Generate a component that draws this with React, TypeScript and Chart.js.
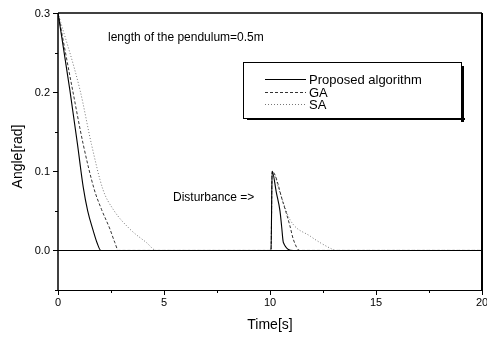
import React, { useEffect, useRef } from "react";
import { Chart, registerables } from "chart.js";

Chart.register(...registerables);

const proposedT = [0, 0.56, 0.92, 1.19, 1.4, 1.66, 1.85, 2.02, 10.0, 10.05, 10.1, 10.3, 10.47, 10.55, 10.63, 11.1, 20];
const proposedV = [0.3, 0.2025, 0.134, 0.08, 0.05, 0.025, 0.009, 0, 0, 0, 0.1, 0.073, 0.05, 0.03, 0.01, 0, 0];

const gaT = [0, 0.69, 1.19, 1.71, 2.05, 2.45, 2.68, 2.85, 10.0, 10.05, 10.1, 10.62, 10.94, 11.1, 11.4, 20];
const gaV = [0.3, 0.2025, 0.134, 0.077, 0.052, 0.027, 0.01, 0, 0, 0, 0.1, 0.06, 0.031, 0.014, 0, 0];

const saT = [0, 1.04, 1.58, 2.12, 2.6, 3.39, 4.17, 4.64, 10.0, 10.05, 10.1, 10.47, 10.94, 11.9, 12.9, 13.1, 20];
const saV = [0.3, 0.2025, 0.134, 0.077, 0.052, 0.027, 0.01, 0, 0, 0, 0.1, 0.073, 0.039, 0.018, 0.002, 0, 0];

const seriesNames = ["Proposed algorithm", "GA", "SA"];
const xTickLabels = [0, 5, 10, 15, 20];
const yTickLabels = [0.0, 0.1, 0.2, 0.3];
const noteText = "length of the pendulum=0.5m";
const disturbanceText = "Disturbance =>";
const xTitle = "Time[s]";
const yTitle = "Angle[rad]";

const FONT = "'Liberation Sans', Arial, sans-serif";

function pts(t: number[], v: number[]) {
  return t.map((x, i) => ({ x, y: v[i] }));
}

const decorPlugin = {
  id: "decor",
  beforeDatasetsDraw(chart: any) {
    const { ctx, chartArea: a, scales } = chart;
    const y0 = scales.y.getPixelForValue(0);
    ctx.save();
    ctx.strokeStyle = "#000";
    ctx.lineWidth = 1;
    ctx.beginPath();
    ctx.moveTo(a.left, Math.round(y0) + 0.5);
    ctx.lineTo(a.right, Math.round(y0) + 0.5);
    ctx.stroke();
    ctx.restore();
  },
  afterDraw(chart: any) {
    const { ctx, chartArea: a, scales } = chart;
    const xs = scales.x;
    const ys = scales.y;
    ctx.save();
    ctx.strokeStyle = "#000";
    // frame
    ctx.lineWidth = 1.5;
    ctx.beginPath();
    ctx.moveTo(a.left, a.top);
    ctx.lineTo(a.right, a.top);
    ctx.stroke();
    ctx.lineWidth = 2;
    ctx.beginPath();
    ctx.moveTo(a.right, a.top);
    ctx.lineTo(a.right, a.bottom);
    ctx.stroke();
    ctx.lineWidth = 1.5;
    ctx.beginPath();
    ctx.moveTo(a.left, a.top);
    ctx.lineTo(a.left, a.bottom);
    ctx.stroke();
    ctx.lineWidth = 1;
    ctx.beginPath();
    ctx.moveTo(a.left, a.bottom + 0.5);
    ctx.lineTo(a.right, a.bottom + 0.5);
    ctx.stroke();
    // y ticks
    ctx.lineWidth = 1;
    for (let v = -0.05; v <= 0.3001; v += 0.05) {
      const py = Math.round(ys.getPixelForValue(v)) + 0.5;
      const major = Math.abs(Math.round(v * 10) - v * 10) < 1e-6;
      ctx.beginPath();
      ctx.moveTo(a.left - (major ? 5 : 3), py);
      ctx.lineTo(a.left, py);
      ctx.stroke();
    }
    // x ticks
    for (let v = 0; v <= 20.001; v += 2.5) {
      const px = Math.round(xs.getPixelForValue(v)) + 0.5;
      const major = Math.abs(v % 5) < 1e-6;
      ctx.beginPath();
      ctx.moveTo(px, a.bottom);
      ctx.lineTo(px, a.bottom + (major ? 5 : 3));
      ctx.stroke();
    }
    // tick labels
    ctx.fillStyle = "#000";
    ctx.font = `11px ${FONT}`;
    ctx.textAlign = "center";
    ctx.textBaseline = "middle";
    xTickLabels.forEach((v) => {
      ctx.fillText(String(v), xs.getPixelForValue(v), 303);
    });
    ctx.textAlign = "right";
    yTickLabels.forEach((v) => {
      ctx.fillText(v.toFixed(1), 50, ys.getPixelForValue(v) + 1);
    });
    // titles
    ctx.font = `14px ${FONT}`;
    ctx.textAlign = "center";
    ctx.fillText(xTitle, xs.getPixelForValue(10), 325);
    ctx.save();
    ctx.translate(18, (a.top + a.bottom) / 2 + 5);
    ctx.rotate(-Math.PI / 2);
    ctx.fillText(yTitle, 0, 0);
    ctx.restore();
    // annotations
    ctx.font = `12px ${FONT}`;
    ctx.textAlign = "left";
    ctx.fillText(noteText, 108, 38);
    ctx.fillText(disturbanceText, 173, 198);
    // legend
    const lx = 243, ly = 62, lw = 218, lh = 56;
    ctx.fillStyle = "#000";
    ctx.fillRect(lx + lw, ly + 4, 3, lh);
    ctx.fillRect(lx + 4, ly + lh, lw, 2);
    ctx.fillStyle = "#fff";
    ctx.fillRect(lx, ly, lw, lh);
    ctx.lineWidth = 1;
    ctx.strokeStyle = "#000";
    ctx.strokeRect(lx + 0.5, ly + 0.5, lw, lh);
    const rows = [79, 92, 104];
    chart.data.datasets.forEach((ds: any, i: number) => {
      const ry = rows[i] + 0.5;
      ctx.save();
      ctx.strokeStyle = ds.borderColor;
      ctx.lineWidth = ds.borderWidth;
      ctx.setLineDash(ds.borderDash || []);
      ctx.beginPath();
      ctx.moveTo(265, ry);
      ctx.lineTo(306, ry);
      ctx.stroke();
      ctx.restore();
      ctx.fillStyle = "#000";
      ctx.font = `13px ${FONT}`;
      ctx.textAlign = "left";
      ctx.textBaseline = "middle";
      ctx.fillText(ds.label, 309, rows[i] + 1);
    });
    ctx.restore();
  },
};

export default function App() {
  const ref = useRef<HTMLCanvasElement | null>(null);
  useEffect(() => {
    if (!ref.current) return;
    const chart = new Chart(ref.current, {
      type: "line",
      data: {
        datasets: [
          {
            label: seriesNames[0],
            data: pts(proposedT, proposedV),
            borderColor: "#000",
            borderWidth: 1.1,
            pointRadius: 0,
            cubicInterpolationMode: "monotone",
          },
          {
            label: seriesNames[1],
            data: pts(gaT, gaV),
            borderColor: "#333",
            borderWidth: 1,
            borderDash: [3, 2],
            pointRadius: 0,
            cubicInterpolationMode: "monotone",
          },
          {
            label: seriesNames[2],
            data: pts(saT, saV),
            borderColor: "#777",
            borderWidth: 1,
            borderDash: [1, 2],
            pointRadius: 0,
            cubicInterpolationMode: "monotone",
          },
        ],
      },
      options: {
        animation: false,
        responsive: false,
        layout: { padding: { left: 0, right: 5, top: 13, bottom: 0 } },
        plugins: { legend: { display: false }, tooltip: { enabled: false } },
        scales: {
          x: {
            type: "linear",
            min: 0,
            max: 20,
            grid: { display: false, drawTicks: false },
            border: { display: false },
            ticks: { display: false },
            afterFit: (s: any) => { s.height = 48; s.paddingLeft = 0; s.paddingRight = 0; },
          },
          y: {
            type: "linear",
            min: -0.05,
            max: 0.3,
            grid: { display: false, drawTicks: false },
            border: { display: false },
            ticks: { display: false },
            afterFit: (s: any) => { s.width = 58; s.paddingTop = 0; s.paddingBottom = 0; },
          },
        },
      },
      plugins: [decorPlugin],
    } as any);
    return () => chart.destroy();
  }, []);
  return (
    <div style={{ position: "absolute", left: 0, top: 0, width: 487, height: 338, background: "#fff" }}>
      <canvas ref={ref} width={487} height={338} style={{ display: "block", width: 487, height: 338 }} />
    </div>
  );
}
